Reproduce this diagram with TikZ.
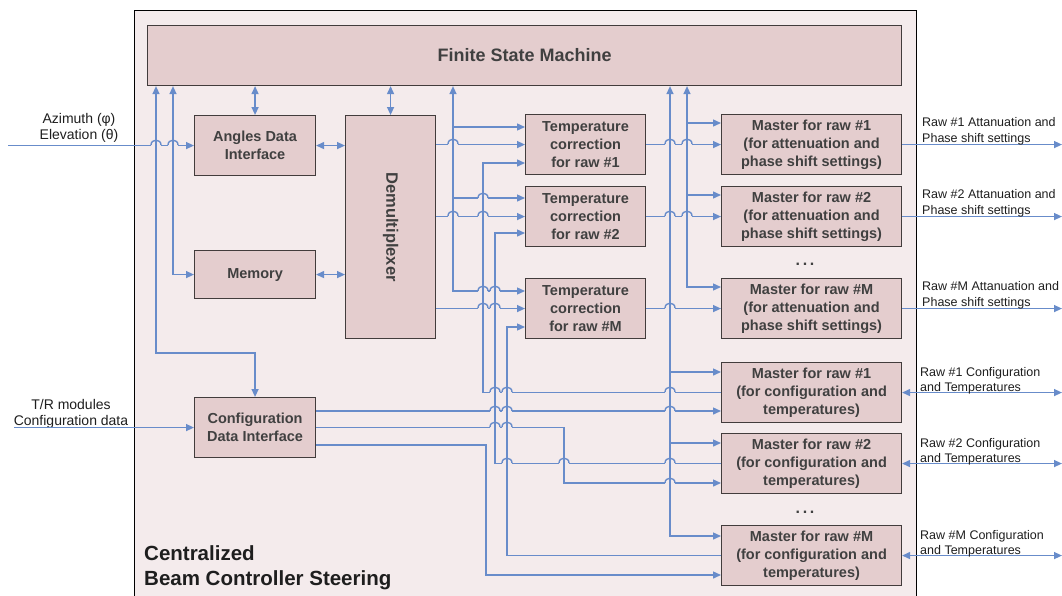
\documentclass[tikz,border=0pt]{standalone}
\usepackage{fontspec}
\usepackage{graphicx}
\setmainfont{Liberation Sans}
\usetikzlibrary{arrows.meta,calc}

\definecolor{panel}{RGB}{244,235,236}
\definecolor{boxfill}{RGB}{228,205,206}
\definecolor{boxline}{RGB}{66,60,60}
\definecolor{boxtext}{RGB}{64,64,64}
\definecolor{wirec}{RGB}{104,140,202}
\definecolor{labeltext}{RGB}{30,30,30}

\tikzset{
  blk/.style={draw=boxline, fill=boxfill, line width=1.1pt, inner sep=0pt,
    anchor=north west, text=boxtext, align=center,
    font=\bfseries\fontsize{14.5}{18}\selectfont},
  wire/.style={draw=wirec, line width=1.4pt},
  rlbl/.style={anchor=base west, align=left, inner sep=0pt, text=labeltext,
    font=\fontsize{12.5}{15.5}\selectfont},
  llbl/.style={anchor=base, align=center, inner sep=0pt, text=labeltext,
    font=\fontsize{14}{16.5}\selectfont},
  dots/.style={anchor=base, inner sep=0pt, text=boxtext,
    font=\bfseries\fontsize{16}{16}\selectfont},
}

% a line hop of a horizontal wire over a vertical one at (x,y)
\newcommand\wirehop[2]{%
  \fill[panel] (#1-5,#2-1.8) rectangle (#1+5,#2+1.8);
  \draw[wire] (#1,#2-2.7) -- (#1,#2+2.7);
  \draw[wire] (#1-5,#2) .. controls (#1-5,#2-6.4) and (#1+5,#2-6.4) .. (#1+5,#2);
}

\begin{document}
\begin{tikzpicture}[x=1pt, y=-1pt, >={Triangle[length=8pt,width=7pt]}]
\useasboundingbox (0,0) rectangle (1062,595);

% enclosing controller
\node[draw=black, fill=panel, line width=1.3pt, inner sep=0pt, anchor=north west,
      minimum width=782pt, minimum height=600pt] (ctrl) at (134,10) {};
% multi-line texts are placed by the baseline of their last line
\node[anchor=base west, align=left, inner sep=0pt, text=labeltext,
      font=\bfseries\fontsize{20.5}{25.7}\selectfont] (title) at (144,585.7)
      {Centralized\\Beam Controller Steering};

% blocks
\node[blk, minimum width=754pt, minimum height=60pt,
      font=\bfseries\fontsize{18}{22}\selectfont] (fsm) at (147,25) {Finite State Machine};
\node[blk, minimum width=121pt, minimum height=60pt] (adi) at (194,115) {Angles Data\\Interface};
\node[blk, minimum width=121pt, minimum height=48pt] (mem) at (194,250) {Memory};
\node[blk, minimum width=121pt, minimum height=60pt] (cdi) at (194,397) {Configuration\\Data Interface};
\node[blk, minimum width=90pt, minimum height=223pt,
      font=\bfseries\fontsize{16.5}{18}\selectfont] (dmx) at (345,115) {\rotatebox{-90}{Demultiplexer}};

\node[blk, minimum width=120pt, minimum height=60pt] (tc1) at (525,114) {Temperature\\correction\\for raw \#1};
\node[blk, minimum width=120pt, minimum height=60pt] (tc2) at (525,186) {Temperature\\correction\\for raw \#2};
\node[blk, minimum width=120pt, minimum height=60pt] (tcm) at (525,278) {Temperature\\correction\\for raw \#M};

\node[blk, minimum width=180pt, minimum height=60pt] (ma1) at (721,114) {Master for raw \#1\\(for attenuation and\\phase shift settings)};
\node[blk, minimum width=180pt, minimum height=60pt] (ma2) at (721,186) {Master for raw \#2\\(for attenuation and\\phase shift settings)};
\node[blk, minimum width=180pt, minimum height=60pt] (mam) at (721,278) {Master for raw \#M\\(for attenuation and\\phase shift settings)};
\node[dots] (dotsa) at (805,265) {.\,.\,.};

\node[blk, minimum width=180pt, minimum height=60pt] (mc1) at (721,362) {Master for raw \#1\\(for configuration and\\temperatures)};
\node[blk, minimum width=180pt, minimum height=60pt] (mc2) at (721,433) {Master for raw \#2\\(for configuration and\\temperatures)};
\node[blk, minimum width=180pt, minimum height=60pt] (mcm) at (721,525) {Master for raw \#M\\(for configuration and\\temperatures)};
\node[dots] (dotsc) at (805,513) {.\,.\,.};

% bus columns
\coordinate (bA) at (156,0);
\coordinate (bB) at (173,0);
\coordinate (bC) at (453,0);
\coordinate (bD) at (483,0);
\coordinate (bH) at (486,0);
\coordinate (bE) at (495,0);
\coordinate (bF) at (507,0);
\coordinate (bG) at (564,0);
\coordinate (bR) at (670,0);
\coordinate (bS) at (687,0);
\coordinate (inA) at (8,0);
\coordinate (inT) at (14,0);
\coordinate (outR) at (1062,0);

% external inputs
\node[llbl] (azl) at (79,139.5) {Azimuth (φ)\\Elevation (θ)};
\draw[wire,->] (inA |- adi.west) -- (adi.west);
\node[llbl] (trl) at (71,425.5) {T/R modules\\Configuration data};
\draw[wire,->] (inT |- cdi.west) -- (cdi.west);

% finite state machine links
\draw[wire,<->] (fsm.south -| bA) -- (bA |- 0,353) -- (cdi.north |- 0,353) -- (cdi.north);
\draw[wire,<->] (fsm.south -| bB) -- (bB |- mem.west) -- (mem.west);
\draw[wire,<->] (fsm.south -| adi.north) -- (adi.north);
\draw[wire,<->] (fsm.south -| dmx.north) -- (dmx.north);
\draw[wire,<->] (adi.east) -- (dmx.west |- adi.east);
\draw[wire,<->] (mem.east) -- (dmx.west |- mem.east);

% demultiplexer to temperature correction
\draw[wire,->] (dmx.east |- tc1.west) -- (tc1.west);
\draw[wire,->] (dmx.east |- tc2.west) -- (tc2.west);
\draw[wire,->] (dmx.east |- tcm.west) -- (tcm.west);

% control bus to temperature correction
\draw[wire,<->] (fsm.south -| bC) -- (bC |- 0,291) -- (tcm.west |- 0,291);
\draw[wire,->] (bC |- 0,127) -- (tc1.west |- 0,127);
\draw[wire,->] (bC |- 0,198) -- (tc2.west |- 0,198);

% temperatures returned by the configuration masters
\draw[wire,->] (mc1.west) -- (bD |- mc1.west) -- (bD |- 0,163) -- (tc1.west |- 0,163);
\draw[wire,->] (mc2.west) -- (bE |- mc2.west) -- (bE |- 0,233) -- (tc2.west |- 0,233);
\draw[wire,->] (mcm.west) -- (bF |- mcm.west) -- (bF |- 0,327) -- (tcm.west |- 0,327);

% configuration data to the configuration masters
\draw[wire,->] (cdi.east |- 0,411) -- (mc1.west |- 0,411);
\draw[wire,->] (cdi.east) -- (bG |- cdi.east) -- (bG |- 0,483) -- (mc2.west |- 0,483);
\draw[wire,->] (cdi.east |- 0,445) -- (bH |- 0,445) -- (bH |- 0,575) -- (mcm.west |- 0,575);

% control buses to the masters
\draw[wire,<->] (fsm.south -| bR) -- (bR |- 0,536) -- (mcm.west |- 0,536);
\draw[wire,->] (bR |- 0,372) -- (mc1.west |- 0,372);
\draw[wire,->] (bR |- 0,443) -- (mc2.west |- 0,443);
\draw[wire,<->] (fsm.south -| bS) -- (bS |- 0,287) -- (mam.west |- 0,287);
\draw[wire,->] (bS |- 0,123) -- (ma1.west |- 0,123);
\draw[wire,->] (bS |- 0,195) -- (ma2.west |- 0,195);

% corrected values to the attenuation/phase masters
\draw[wire,->] (tc1.east) -- (ma1.west);
\draw[wire,->] (tc2.east) -- (ma2.west);
\draw[wire,->] (tcm.east) -- (mam.west);

% outputs
\draw[wire,->] (ma1.east) -- (outR |- ma1.east);
\draw[wire,->] (ma2.east) -- (outR |- ma2.east);
\draw[wire,->] (mam.east) -- (outR |- mam.east);
\draw[wire,<->] (mc1.east) -- (outR |- mc1.east);
\draw[wire,<->] (mc2.east) -- (outR |- mc2.east);
\draw[wire,<->] (mcm.east) -- (outR |- mcm.east);

\node[rlbl] (o1) at (922,142) {Raw \#1 Attanuation and\\Phase shift settings};
\node[rlbl] (o2) at (922,214) {Raw \#2 Attanuation and\\Phase shift settings};
\node[rlbl] (o3) at (922,306) {Raw \#M Attanuation and\\Phase shift settings};
\node[rlbl] (o4) at (920,391.5) {Raw \#1 Configuration\\and Temperatures};
\node[rlbl] (o5) at (920,462.5) {Raw \#2 Configuration\\and Temperatures};
\node[rlbl] (o6) at (920,554.5) {Raw \#M Configuration\\and Temperatures};

% line hops
\wirehop{156}{145}\wirehop{173}{145}
\wirehop{453}{144}
\wirehop{483}{198}
\wirehop{453}{216}\wirehop{483}{216}
\wirehop{483}{291}\wirehop{495}{291}
\wirehop{483}{308}\wirehop{495}{308}
\wirehop{670}{144}\wirehop{687}{144}
\wirehop{670}{216}\wirehop{687}{216}
\wirehop{670}{308}
\wirehop{495}{392}\wirehop{507}{392}\wirehop{670}{392}
\wirehop{495}{411}\wirehop{507}{411}\wirehop{670}{411}
\wirehop{495}{427}\wirehop{507}{427}
\wirehop{507}{463}\wirehop{564}{463}\wirehop{670}{463}
\wirehop{670}{483}
\end{tikzpicture}
\end{document}
